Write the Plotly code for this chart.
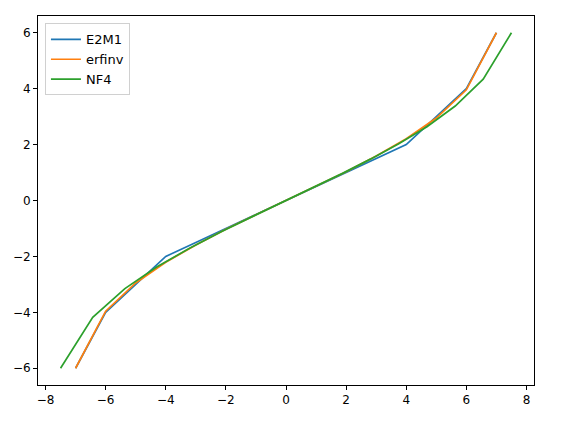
import plotly.graph_objects as go

# FP4 grids (scaled to +/-6)
x_e2m1 = [-7, -6, -5, -4, -3, -2, -1, 0, 1, 2, 3, 4, 5, 6, 7]
y_e2m1 = [-6, -4, -3, -2, -1.5, -1, -0.5, 0, 0.5, 1, 1.5, 2, 3, 4, 6]

x_erfinv = [-7, -6, -5, -4, -3, -2, -1, 0, 1, 2, 3, 4, 5, 6, 7]
y_erfinv = [-6, -3.96, -2.95, -2.21, -1.59, -1.03, -0.51, 0, 0.51, 1.03, 1.59, 2.21, 2.95, 3.96, 6]

x_nf4 = [-7.5, -6.43, -5.36, -4.29, -3.21, -2.14, -1.07, 0, 0.94, 1.88, 2.81, 3.75, 4.69, 5.63, 6.56, 7.5]
y_nf4 = [-6, -4.18, -3.15, -2.37, -1.71, -1.11, -0.55, 0, 0.48, 0.97, 1.48, 2.03, 2.64, 3.38, 4.34, 6]

series = [
    ("E2M1", x_e2m1, y_e2m1, "#1f77b4"),
    ("erfinv", x_erfinv, y_erfinv, "#ff7f0e"),
    ("NF4", x_nf4, y_nf4, "#2ca02c"),
]

fig = go.Figure()
for nome, xs, ys, cor in series:
    fig.add_trace(go.Scatter(x=xs, y=ys, mode="lines", name=nome,
                             line=dict(color=cor, width=1.7)))

eixo = dict(showgrid=False, zeroline=False, showline=True, linecolor="black",
            linewidth=1, mirror=True, ticks="outside", ticklen=4, tickwidth=1,
            tickcolor="black", tickfont=dict(size=12, color="black"))

fig.update_layout(
    width=561, height=422,
    margin=dict(l=38, r=27, t=16, b=37),
    plot_bgcolor="white", paper_bgcolor="white",
    font=dict(family="DejaVu Sans", size=12, color="black"),
    xaxis=dict(range=[-8.25, 8.25], tickvals=[-8, -6, -4, -2, 0, 2, 4, 6, 8], **eixo),
    yaxis=dict(range=[-6.6, 6.6], tickvals=[-6, -4, -2, 0, 2, 4, 6], **eixo),
    legend=dict(x=0.014, y=0.98, xanchor="left", yanchor="top",
                bgcolor="rgba(255,255,255,0.8)", bordercolor="#d0d0d0", borderwidth=1,
                font=dict(size=13), itemwidth=30, tracegroupgap=0),
    showlegend=True,
)

fig.write_html("out.html", config={"displayModeBar": False},
               post_script="document.body.style.margin='0';")
